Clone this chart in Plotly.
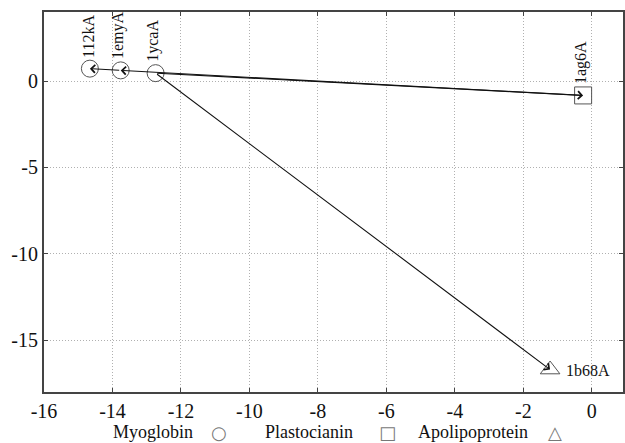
import plotly.graph_objects as go

# Data
names = ["112kA", "1emyA", "1ycaA", "1ag6A", "1b68A"]
xs = [-14.66, -13.76, -12.74, -0.255, -1.22]
ys = [0.72, 0.62, 0.46, -0.83, -16.70]
groups = ["Myoglobin", "Myoglobin", "Myoglobin", "Plastocianin", "Apolipoprotein"]
symbols = {"Myoglobin": "circle-open", "Plastocianin": "square-open", "Apolipoprotein": "triangle-up-open"}
legend_glyphs = {"Myoglobin": "○", "Plastocianin": "□", "Apolipoprotein": "△"}
# arrows: (from index, to index)
arrows = [(2, 3), (3, 1), (1, 0), (2, 4)]

x_ticks = list(range(-16, 1, 2))
y_ticks = [0, -5, -10, -15]

FONT = "Liberation Serif"

fig = go.Figure()
for g in ["Myoglobin", "Plastocianin", "Apolipoprotein"]:
    idx = [i for i, gg in enumerate(groups) if gg == g]
    fig.add_trace(go.Scatter(
        x=[xs[i] for i in idx], y=[ys[i] for i in idx], mode="markers",
        marker=dict(symbol=symbols[g], size=17, color="#555555", line=dict(width=1, color="#555555")),
        name=g, showlegend=False, cliponaxis=False))

for a, b in arrows:
    fig.add_annotation(x=xs[b], y=ys[b], ax=xs[a], ay=ys[a], xref="x", yref="y",
                       axref="x", ayref="y", showarrow=True, arrowhead=4, arrowsize=1.4,
                       arrowwidth=1.1, arrowcolor="#111111", standoff=0, startstandoff=0, text="")

for i, n in enumerate(names):
    if n == "1b68A":
        fig.add_annotation(x=xs[i], y=ys[i], text=n, showarrow=False, xanchor="left",
                           yanchor="middle", xshift=14, yshift=-1, font=dict(family=FONT, size=16, color="#111"))
    else:
        fig.add_annotation(x=xs[i], y=ys[i], text=n, showarrow=False, textangle=-90,
                           xanchor="center", yanchor="bottom", yshift=9, xshift=-2,
                           font=dict(family=FONT, size=16, color="#111"))

# legend row (text followed by glyph)
legend_x = [0.1155, 0.379, 0.643]
glyph_x = [0.303, 0.593, 0.883]
for k, g in enumerate(["Myoglobin", "Plastocianin", "Apolipoprotein"]):
    fig.add_annotation(x=legend_x[k], y=-0.104, xref="paper", yref="paper", text=g,
                       showarrow=False, xanchor="left", yanchor="middle",
                       font=dict(family=FONT, size=18, color="#111"))
    fig.add_annotation(x=glyph_x[k], y=-0.106, xref="paper", yref="paper", text=legend_glyphs[g],
                       showarrow=False, xanchor="center", yanchor="middle", borderpad=0,
                       font=dict(family="DejaVu Sans", size=18, color="#777"))

axis_common = dict(showline=True, linecolor="#444444", linewidth=2, mirror="ticks",
                   ticks="inside", ticklen=4, tickcolor="#444444", zeroline=False,
                   showgrid=True, gridcolor="#b0b0b0", griddash="1px,2px", gridwidth=1,
                   tickfont=dict(family=FONT, size=20, color="#111"))

fig.update_xaxes(range=[-16, 0.91], tickvals=x_ticks, ticktext=[str(v) for v in x_ticks], **axis_common)
fig.update_yaxes(range=[-18, 4.0], tickvals=y_ticks, ticktext=[str(v) for v in y_ticks], **axis_common)

fig.update_layout(width=625, height=443, margin=dict(l=44, r=0, t=12, b=51),
                  plot_bgcolor="white", paper_bgcolor="white", showlegend=False)

fig.write_html("out.html", config={"displayModeBar": False},
               post_script="document.body.style.margin='0';document.body.style.overflow='hidden';")
